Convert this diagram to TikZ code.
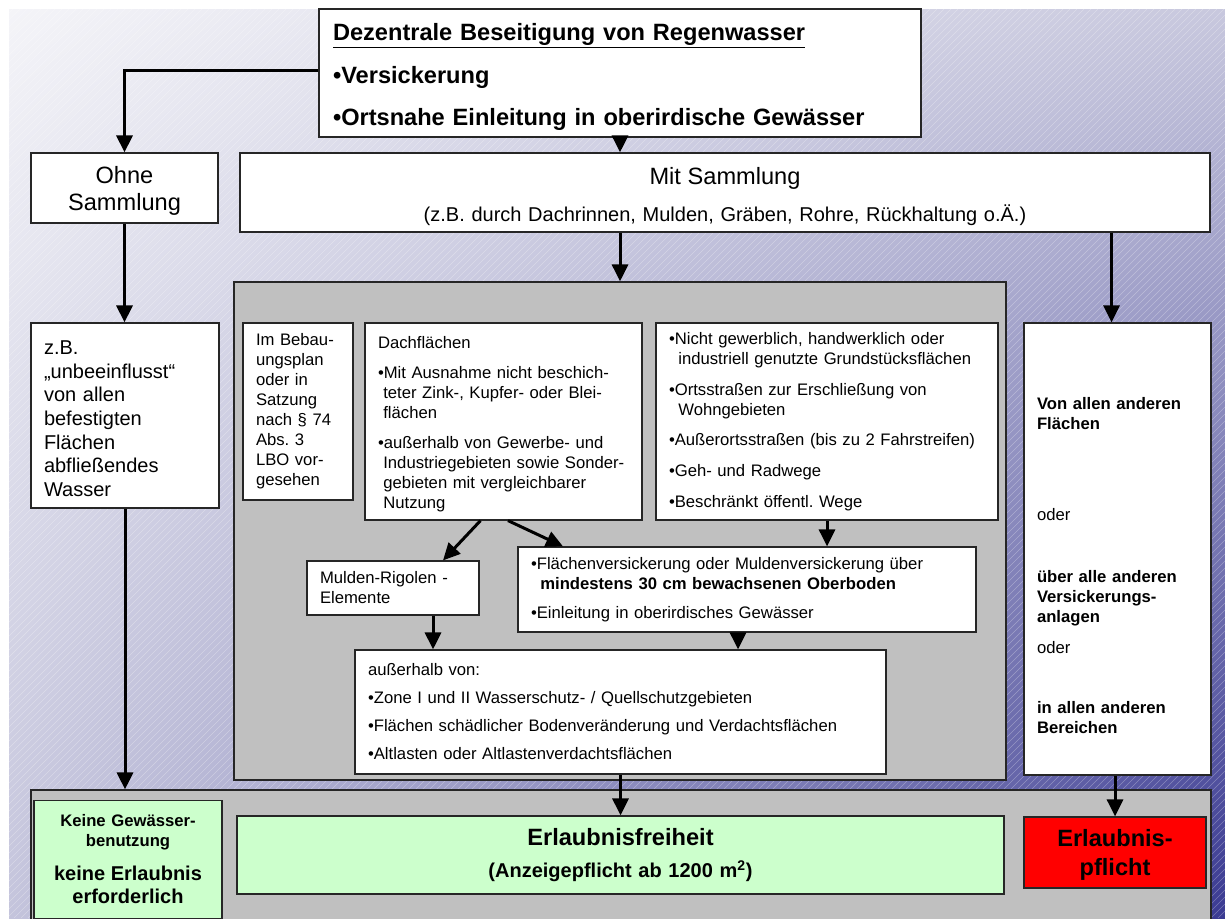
\documentclass[tikz,border=0pt]{standalone}
\usepackage{fontspec}
\setmainfont{Liberation Sans}
\usetikzlibrary{arrows.meta,calc,shadings}
\frenchspacing
\definecolor{bgUL}{RGB}{244,244,248}
\definecolor{bgUR}{RGB}{200,200,222}
\definecolor{bgLL}{RGB}{196,196,220}
\definecolor{bgLR}{RGB}{58,58,146}
\definecolor{panelgray}{RGB}{192,192,192}
\definecolor{palegreen}{RGB}{204,255,204}
\tikzset{
  box/.style = {draw=black!85, line width=0.9pt, inner xsep=9.75pt, inner ysep=0pt, align=left},
  box_w/.style = {box, fill=white},
  box_g/.style = {box, fill=palegreen, align=center},
  box_r/.style = {box, fill=red, align=center},
  panel/.style = {draw=black!85, line width=0.9pt, fill=panelgray, inner sep=0pt},
  arr/.style = {line width=2.25pt, -{Triangle[width=12pt,length=12.75pt]}},
}
\newcommand{\fsL}{\fontsize{17.7}{21}\selectfont}
\newcommand{\fsM}{\fontsize{15}{17.7}\selectfont}
\newcommand{\fsS}{\fontsize{12.5}{15}\selectfont}

\begin{document}
\begin{tikzpicture}[x=0.75pt, y=-0.75pt]
  \useasboundingbox (0,0) rectangle (1225,918);
  % background
  \shade[upper left=bgUL, upper right=bgUR, lower left=bgLL, lower right=bgLR]
    (9,9) rectangle (1225,918);
  \begin{scope}
    \clip (9,9) rectangle (1225,918);
    \foreach \i in {-910,-903,...,1225}
      \draw[white, opacity=0.3, line width=0.4pt] (\i,918) -- ++(909,-909);
  \end{scope}

  % top
  \node [box_w, text width=430.5pt, inner xsep=10.5pt, minimum height=96pt, font=\fsL\bfseries] (title) at (620,73)
    {\rule{0pt}{18.9pt}\underline{Dezentrale Beseitigung von Regenwasser}\\[11pt]•Versickerung\\[11pt]•Ortsnahe Einleitung in oberirdische Gewässer};
  \node [box_w, align=center, text width=120.75pt, minimum height=52.5pt, font=\fontsize{17.7}{20.25}\selectfont] (ohne) at (124.5,188)
    {\rule{0pt}{16.5pt}Ohne\\Sammlung};
  \node [box_w, align=center, text width=708pt, minimum height=59.25pt, font=\fsM] (mit) at (725,192.5)
    {{\rule{0pt}{19pt}\fsL Mit Sammlung}\\[9.5pt](z.B. durch Dachrinnen, Mulden, Gräben, Rohre, Rückhaltung o.Ä.)};
  \node [box_w, text width=121.5pt, minimum height=138.75pt, font=\fsM] (zb) at (125,415.5)
    {\rule{0pt}{15pt}z.B.\\„unbeeinflusst“\\von allen\\befestigten\\Flächen\\abfließendes\\Wasser};

  % middle panel
  \node [panel, minimum width=579pt, minimum height=373.5pt] (mid) at (620,531) {};
  \node [box_w, text width=63pt, minimum height=132.75pt, font=\fsS] (bplan) at (298,411.5)
    {Im Bebau-\\ungsplan\\oder in\\Satzung\\nach § 74\\Abs. 3\\LBO vor-\\gesehen};
  \node [box_w, text width=188.25pt, minimum height=147.75pt, font=\fsS] (dach) at (503.5,421.5)
    {\rule{0pt}{13pt}Dachflächen\\[7.5pt]•Mit Ausnahme nicht beschich-\\\hspace*{4pt}teter Zink-, Kupfer- oder Blei-\\\hspace*{4pt}flächen\\[8pt]%
     •außerhalb von Gewerbe- und\\\hspace*{4pt}Industriegebieten sowie Sonder-\\\hspace*{4pt}gebieten mit vergleichbarer\\\hspace*{4pt}Nutzung};
  \node [box_w, text width=237pt, minimum height=147.75pt, font=\fsS] (nicht) at (827,421.5)
    {•Nicht gewerblich, handwerklich oder\\\hspace*{7pt}industriell genutzte Grundstücksflächen\\[8pt]•Ortsstraßen zur Erschließung von\\\hspace*{7pt}Wohngebieten\\[8pt]%
     •Außerortsstraßen (bis zu 2 Fahrstreifen)\\[8pt]•Geh- und Radwege\\[8pt]•Beschränkt öffentl. Wege};
  \node [box_w, text width=109.5pt, minimum height=40.5pt, font=\fsS] (mulden) at (393,588)
    {Mulden-Rigolen -\\Elemente};
  \node [box_w, text width=324pt, minimum height=63.75pt, font=\fsS] (flaechen) at (747,589.5)
    {•Flächenversickerung oder Muldenversickerung über\\\hspace*{7pt}\textbf{mindestens 30 cm bewachsenen Oberboden}\\[7pt]•Einleitung in oberirdisches Gewässer};
  \node [box_w, text width=378.75pt, minimum height=93pt, font=\fsS] (ausser) at (620.5,712)
    {außerhalb von:\\[6pt]•Zone I und II Wasserschutz- / Quellschutzgebieten\\[6pt]•Flächen schädlicher Bodenveränderung und Verdachtsflächen\\[6pt]•Altlasten oder Altlastenverdachtsflächen};

  % right column
  \node [box_w, text width=120.75pt, minimum height=339pt, font=\fsS] (rest) at (1117.5,549)
    {\mbox{}\\[18.75pt]\textbf{Von allen anderen}\\\textbf{Flächen}\\[53pt]oder\\[31.5pt]\textbf{über alle anderen}\\\textbf{Versickerungs-}\\\textbf{anlagen}\\[8pt]oder\\[30pt]%
     \textbf{in allen anderen}\\\textbf{Bereichen}};

  % bottom panel
  \node [panel, minimum width=885pt, minimum height=103.5pt] (bottom) at (621,859) {};
  \node [box_g, text width=121.5pt, minimum height=88pt, font=\fsS\bfseries] (keine) at (128,859.5)
    {Keine Gewässer-\\benutzung\\[10.5pt]{\fsM keine Erlaubnis}\\[2.25pt]{\fsM erforderlich}};
  \node [box_g, text width=555.75pt, minimum height=58.5pt, font=\fsM\bfseries] (frei) at (620.5,855)
    {{\fsL Erlaubnisfreiheit}\\[6.3pt](Anzeigepflicht ab 1200 m\textsuperscript{2})};
  \node [box_r, text width=117pt, minimum height=53.25pt, font=\fontsize{17.7}{21.75}\selectfont\bfseries] (pflicht) at (1115,852.5)
    {\rule{0pt}{17pt}Erlaubnis-\\pflicht};

  \coordinate (m1) at ($(mulden.south)+(40,0)$);
  \coordinate (f1) at ($(flaechen.south)+(-9,0)$);

  \draw[arr] ($(title.west)+(0,-3)$) -| (ohne.north);
  \draw[arr] (title.south) -- (title.south |- mit.north);
  \draw[arr] (ohne.south) -- (ohne.south |- zb.north);
  \draw[arr] (mid.north |- mit.south) -- (mid.north);
  \draw[arr] ([xshift=-4.5pt]rest.north |- mit.south) -- ([xshift=-4.5pt]rest.north);
  \draw[arr] (zb.south) -- (zb.south |- bottom.north);
  \draw[arr] ($(dach.south)+(-23,0)$) -- ($(mulden.north)+(50,0)$);
  \draw[arr] ($(dach.south)+(4.5,0)$) -- ($(flaechen.north)+(-184,0)$);
  \draw[arr] (nicht.south) -- (nicht.south |- flaechen.north);
  \draw[arr] (m1) -- (m1 |- ausser.north);
  \draw[arr] (f1) -- (f1 |- ausser.north);
  \draw[arr] (ausser.south) -- (ausser.south |- frei.north);
  \draw[arr] (pflicht.north |- rest.south) -- (pflicht.north);
\end{tikzpicture}
\end{document}
